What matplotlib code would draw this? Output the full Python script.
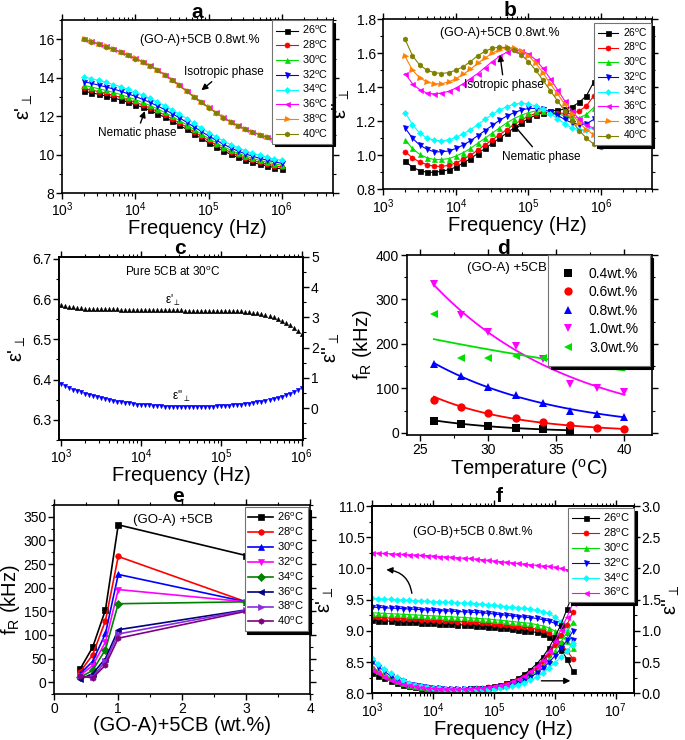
import numpy as np
import matplotlib
matplotlib.use("Agg")
from matplotlib import pyplot as plt
from matplotlib.ticker import MultipleLocator, FixedLocator

plt.rcParams['font.family'] = ['Liberation Sans', 'DejaVu Sans']
plt.rcParams['mathtext.fontset'] = 'custom'
plt.rcParams['mathtext.rm'] = 'Liberation Sans'
plt.rcParams['mathtext.it'] = 'Liberation Sans:italic'
plt.rcParams['mathtext.bf'] = 'Liberation Sans:bold'
plt.rcParams['axes.linewidth'] = 1.2

# ---- panel a / b : (GO-A)+5CB 0.8 wt.%, frequency sweep 2 kHz - 1 MHz
temps_ab = [26, 28, 30, 32, 34, 36, 38, 40]
freq_ab = np.logspace(np.log10(2e3), 6, 28)

a26 = [13.30, 13.22, 13.14, 13.05, 12.95, 12.85, 12.73, 12.60, 12.46, 12.30, 12.13, 11.95, 11.75, 11.54,
       11.32, 11.08, 10.85, 10.62, 10.40, 10.20, 10.02, 9.86, 9.72, 9.60, 9.50, 9.41, 9.33, 9.25]
a28 = [13.45, 13.37, 13.28, 13.19, 13.09, 12.98, 12.86, 12.73, 12.59, 12.43, 12.26, 12.07, 11.87, 11.66,
       11.44, 11.20, 10.97, 10.74, 10.52, 10.31, 10.13, 9.97, 9.83, 9.71, 9.60, 9.51, 9.43, 9.35]
a30 = [13.60, 13.52, 13.43, 13.34, 13.24, 13.13, 13.00, 12.87, 12.72, 12.56, 12.39, 12.20, 12.00, 11.78,
       11.56, 11.32, 11.08, 10.85, 10.63, 10.42, 10.24, 10.08, 9.94, 9.81, 9.70, 9.61, 9.53, 9.45]
a32 = [13.80, 13.71, 13.62, 13.52, 13.42, 13.30, 13.17, 13.03, 12.88, 12.72, 12.54, 12.35, 12.14, 11.92,
       11.69, 11.45, 11.21, 10.98, 10.76, 10.55, 10.36, 10.19, 10.05, 9.92, 9.81, 9.71, 9.63, 9.55]
a34 = [14.05, 13.96, 13.86, 13.76, 13.65, 13.53, 13.40, 13.25, 13.10, 12.93, 12.75, 12.55, 12.34, 12.11,
       11.88, 11.63, 11.39, 11.15, 10.93, 10.72, 10.53, 10.36, 10.21, 10.08, 9.96, 9.86, 9.78, 9.70]
a36 = [16.02, 15.90, 15.77, 15.64, 15.50, 15.35, 15.19, 15.02, 14.84, 14.64, 14.42, 14.17, 13.90, 13.62,
       13.32, 13.02, 12.74, 12.47, 12.20, 11.95, 11.72, 11.52, 11.35, 11.19, 11.05, 10.92, 10.80, 10.67]
a38 = [16.01, 15.89, 15.76, 15.63, 15.49, 15.34, 15.18, 15.01, 14.83, 14.63, 14.41, 14.16, 13.89, 13.61,
       13.31, 13.01, 12.73, 12.46, 12.19, 11.94, 11.71, 11.51, 11.34, 11.18, 11.04, 10.91, 10.79, 10.66]
a40 = [16.00, 15.88, 15.75, 15.62, 15.48, 15.33, 15.17, 15.00, 14.82, 14.62, 14.40, 14.15, 13.88, 13.60,
       13.30, 13.00, 12.72, 12.45, 12.18, 11.93, 11.70, 11.50, 11.33, 11.17, 11.03, 10.90, 10.78, 10.65]

b26 = [0.965, 0.93, 0.91, 0.90, 0.90, 0.905, 0.915, 0.93, 0.955, 0.98, 1.01, 1.04, 1.07, 1.10,
       1.13, 1.16, 1.19, 1.215, 1.235, 1.25, 1.26, 1.265, 1.27, 1.285, 1.31, 1.35, 1.43, 1.54]
b28 = [1.02, 0.985, 0.96, 0.945, 0.935, 0.935, 0.94, 0.955, 0.975, 1.0, 1.03, 1.06, 1.09, 1.12,
       1.15, 1.18, 1.205, 1.23, 1.245, 1.255, 1.255, 1.25, 1.245, 1.245, 1.26, 1.29, 1.35, 1.44]
b30 = [1.09, 1.04, 1.005, 0.985, 0.975, 0.975, 0.98, 0.995, 1.015, 1.04, 1.07, 1.10, 1.13, 1.16,
       1.19, 1.215, 1.235, 1.25, 1.26, 1.26, 1.255, 1.245, 1.23, 1.22, 1.22, 1.24, 1.28, 1.35]
b32 = [1.16, 1.10, 1.06, 1.035, 1.02, 1.02, 1.025, 1.04, 1.06, 1.085, 1.115, 1.145, 1.175, 1.205,
       1.23, 1.25, 1.265, 1.275, 1.275, 1.27, 1.255, 1.235, 1.21, 1.19, 1.18, 1.185, 1.21, 1.26]
b34 = [1.25, 1.18, 1.13, 1.10, 1.088, 1.085, 1.09, 1.105, 1.125, 1.15, 1.18, 1.21, 1.24, 1.265,
       1.285, 1.30, 1.305, 1.30, 1.29, 1.27, 1.245, 1.215, 1.185, 1.16, 1.15, 1.15, 1.16, 1.18]
b36 = [1.48, 1.42, 1.385, 1.365, 1.36, 1.365, 1.375, 1.395, 1.42, 1.45, 1.48, 1.515, 1.55, 1.58,
       1.605, 1.62, 1.615, 1.595, 1.56, 1.51, 1.45, 1.385, 1.32, 1.26, 1.21, 1.175, 1.16, 1.17]
b38 = [1.58, 1.50, 1.455, 1.43, 1.42, 1.42, 1.43, 1.45, 1.475, 1.505, 1.54, 1.57, 1.60, 1.62,
       1.633, 1.63, 1.615, 1.585, 1.54, 1.485, 1.42, 1.36, 1.30, 1.24, 1.19, 1.15, 1.12, 1.11]
b40 = [1.68, 1.585, 1.53, 1.50, 1.485, 1.48, 1.485, 1.50, 1.52, 1.55, 1.585, 1.61, 1.628, 1.635,
       1.632, 1.618, 1.59, 1.55, 1.50, 1.44, 1.38, 1.32, 1.26, 1.20, 1.145, 1.10, 1.065, 1.05]

# ---- panel c : pure 5CB at 30 C
freq_c = np.logspace(3, 6, 61)
c_eps1 = [6.584, 6.582, 6.580, 6.579, 6.578, 6.577, 6.576, 6.576, 6.575, 6.575, 6.575, 6.574, 6.574,
          6.574, 6.574, 6.573, 6.573, 6.573, 6.573, 6.573, 6.573, 6.573, 6.572, 6.572, 6.572, 6.572,
          6.572, 6.572, 6.572, 6.572, 6.572, 6.571, 6.571, 6.571, 6.571, 6.571, 6.571, 6.571, 6.570,
          6.570, 6.570, 6.570, 6.570, 6.570, 6.569, 6.569, 6.568, 6.567, 6.566, 6.565, 6.563, 6.561,
          6.558, 6.555, 6.551, 6.546, 6.541, 6.535, 6.528, 6.521, 6.514]
c_eps2 = [0.80, 0.73, 0.67, 0.61, 0.56, 0.52, 0.47, 0.43, 0.39, 0.36, 0.33, 0.30, 0.27, 0.24, 0.22,
          0.20, 0.18, 0.16, 0.14, 0.12, 0.11, 0.10, 0.09, 0.08, 0.07, 0.06, 0.05, 0.04, 0.04, 0.03,
          0.03, 0.03, 0.03, 0.03, 0.03, 0.04, 0.04, 0.05, 0.05, 0.06, 0.06, 0.07, 0.08, 0.09, 0.10,
          0.12, 0.13, 0.15, 0.17, 0.19, 0.21, 0.24, 0.27, 0.30, 0.34, 0.38, 0.42, 0.47, 0.53, 0.59, 0.66]

# ---- panel d : relaxation frequency vs temperature (kHz)
temps_d = [26, 28, 30, 32, 34, 36, 38, 40]
d04 = [26, 20, 16, 11, 8, 5]
d06 = [74, 57, 44, 34, 25, 17, 11, 8]
d08 = [154, 128, 103, 85, 68, 49, 43, 36]
d10 = [334, 265, 227, 196, 166, 110, 100, 91]
d30 = [268, 168, 168, 172, 168, 154, 151, 150]
conc_labels_d = ['0.4wt.%', '0.6wt.%', '0.8wt.%', '1.0wt.%', '3.0wt.%']

# ---- panel e : relaxation frequency vs concentration (kHz)
conc_e = [0.4, 0.6, 0.8, 1.0, 3.0]
temps_e = [26, 28, 30, 32, 34, 36, 38, 40]
e26 = [27, 74, 153, 333, 268]
e28 = [21, 58, 130, 266, 170]
e30 = [17, 44, 103, 228, 170]
e32 = [14, 35, 85, 196, 170]
e34 = [10, 25, 69, 166, 170]
e36 = [6, 18, 50, 111, 153]
e38 = [12, 11, 44, 102, 152]
e40 = [13, 9, 36, 93, 150]

# ---- panel f : (GO-B)+5CB 0.8 wt.%
temps_f = [26, 28, 30, 32, 34, 36]
freq_f = np.logspace(3, 6.3, 34)
f1_26 = [9.17, 9.165, 9.16, 9.155, 9.15, 9.145, 9.14, 9.135, 9.13, 9.125, 9.12, 9.115, 9.11, 9.105,
         9.10, 9.095, 9.09, 9.085, 9.075, 9.065, 9.06, 9.05, 9.04, 9.03, 9.02, 9.005, 8.99, 8.975,
         8.95, 8.90, 8.82, 8.70, 8.55, 8.35]
f1_28 = [9.22, 9.215, 9.21, 9.205, 9.20, 9.195, 9.19, 9.185, 9.18, 9.175, 9.17, 9.165, 9.16, 9.155,
         9.15, 9.145, 9.14, 9.135, 9.13, 9.12, 9.11, 9.10, 9.09, 9.08, 9.07, 9.06, 9.05, 9.03,
         9.01, 8.97, 8.90, 8.80, 8.68, 8.55]
f1_30 = [9.29, 9.285, 9.28, 9.275, 9.27, 9.265, 9.26, 9.255, 9.25, 9.245, 9.24, 9.235, 9.23, 9.225,
         9.22, 9.215, 9.21, 9.20, 9.195, 9.19, 9.18, 9.17, 9.16, 9.15, 9.14, 9.13, 9.12, 9.10,
         9.08, 9.05, 9.00, 8.93, 8.83, 8.72]
f1_32 = [9.38, 9.375, 9.37, 9.365, 9.36, 9.355, 9.35, 9.345, 9.34, 9.335, 9.33, 9.325, 9.32, 9.315,
         9.31, 9.305, 9.30, 9.295, 9.29, 9.28, 9.27, 9.26, 9.25, 9.24, 9.23, 9.22, 9.21, 9.20,
         9.18, 9.16, 9.12, 9.06, 8.97, 8.85]
f1_34 = [9.52, 9.515, 9.51, 9.505, 9.50, 9.495, 9.49, 9.485, 9.48, 9.475, 9.47, 9.465, 9.46, 9.455,
         9.45, 9.445, 9.44, 9.435, 9.43, 9.42, 9.41, 9.40, 9.39, 9.38, 9.37, 9.36, 9.35, 9.33,
         9.31, 9.28, 9.22, 9.15, 9.00, 8.78]
f1_36 = [10.25, 10.245, 10.24, 10.235, 10.23, 10.225, 10.22, 10.215, 10.21, 10.205, 10.20, 10.19,
         10.185, 10.18, 10.17, 10.165, 10.16, 10.15, 10.14, 10.13, 10.12, 10.11, 10.10, 10.09, 10.08,
         10.07, 10.06, 10.05, 10.04, 10.035, 10.02, 10.00, 9.98, 9.95]
f2_26 = [0.33, 0.28, 0.24, 0.20, 0.17, 0.14, 0.12, 0.10, 0.09, 0.08, 0.075, 0.07, 0.07, 0.07, 0.07,
         0.075, 0.08, 0.085, 0.09, 0.10, 0.12, 0.14, 0.17, 0.20, 0.25, 0.31, 0.38, 0.47, 0.58, 0.72,
         0.90, 1.10, 1.35, 1.62]
f2_28 = [0.40, 0.34, 0.28, 0.23, 0.19, 0.16, 0.13, 0.11, 0.095, 0.085, 0.08, 0.075, 0.07, 0.07, 0.07,
         0.07, 0.075, 0.08, 0.085, 0.095, 0.105, 0.12, 0.145, 0.17, 0.21, 0.26, 0.32, 0.40, 0.50,
         0.62, 0.77, 0.93, 1.10, 1.30]
f2_30 = [0.42, 0.36, 0.30, 0.25, 0.20, 0.17, 0.14, 0.12, 0.10, 0.09, 0.08, 0.075, 0.07, 0.07, 0.07,
         0.07, 0.07, 0.075, 0.08, 0.09, 0.10, 0.11, 0.13, 0.16, 0.19, 0.23, 0.28, 0.35, 0.44, 0.55,
         0.68, 0.82, 0.98, 1.15]
f2_32 = [0.50, 0.42, 0.35, 0.28, 0.23, 0.19, 0.15, 0.13, 0.11, 0.095, 0.085, 0.08, 0.075, 0.07, 0.07,
         0.07, 0.07, 0.07, 0.075, 0.08, 0.09, 0.10, 0.12, 0.14, 0.17, 0.21, 0.26, 0.32, 0.40, 0.49,
         0.60, 0.72, 0.85, 1.00]
f2_34 = [0.56, 0.47, 0.39, 0.32, 0.26, 0.21, 0.17, 0.14, 0.12, 0.10, 0.09, 0.08, 0.075, 0.07, 0.07,
         0.065, 0.065, 0.065, 0.065, 0.07, 0.075, 0.085, 0.10, 0.12, 0.14, 0.17, 0.21, 0.26, 0.32,
         0.40, 0.49, 0.58, 0.68, 0.80]
f2_36 = [0.38, 0.32, 0.26, 0.22, 0.18, 0.15, 0.13, 0.11, 0.095, 0.085, 0.08, 0.075, 0.07, 0.07, 0.07,
         0.07, 0.075, 0.08, 0.09, 0.10, 0.115, 0.13, 0.155, 0.19, 0.23, 0.28, 0.35, 0.43, 0.54, 0.67,
         0.83, 1.02, 1.22, 1.45]

EPS1 = "ε'$_{\\perp}$"
EPS2 = "ε''$_{\\perp}$"
FR = "f$_\\mathregular{R}$ (kHz)"
DEG = "$^\\mathregular{o}$C"
LAB = 14.5   # axis label size
TICK = 10    # tick label size

colors_ab = ['black', 'red', '#00dd00', 'blue', 'cyan', 'magenta', '#ff8000', '#808000']
markers_ab = ['s', 'o', '^', 'v', 'D', '<', '>', 'h']
colors_e = ['black', 'red', 'blue', 'magenta', '#008000', '#000080', '#8a2be2', '#800080']
markers_e = ['s', 'o', '^', 'v', 'D', '<', '>', 'h']


def style(ax, right=True):
    ax.tick_params(which='both', direction='out', top=True, right=right, labelsize=TICK, pad=1.5)
    ax.tick_params(which='major', length=4, width=1)
    ax.tick_params(which='minor', length=2.2, width=0.8)


def style_twin(ax):
    ax.tick_params(which='both', direction='out', labelsize=TICK, pad=1.5)
    ax.tick_params(which='major', length=4, width=1)
    ax.tick_params(which='minor', length=2.2, width=0.8)


def legend(ax, handles, labels, anchor, size, **kw):
    opts = dict(loc='upper right', bbox_to_anchor=anchor, fontsize=size, fancybox=False,
                shadow={'color': 'k', 'alpha': 1}, edgecolor='0.45', framealpha=1,
                borderaxespad=0, borderpad=0.35, labelspacing=0.22, handletextpad=0.4)
    opts.update(kw)
    leg = ax.legend(handles, labels, **opts)
    leg.get_frame().set_linewidth(0.8)
    return leg


arrow = dict(arrowstyle='-|>', color='k', lw=1.0, mutation_scale=9, shrinkA=1, shrinkB=0)

fig = plt.figure(figsize=(6.85, 7.4), dpi=100)

# ---------------- a
ax = fig.add_axes([0.0905, 0.739, 0.3956, 0.2338])
series_a = [a26, a28, a30, a32, a34, a36, a38, a40]
for t, y, c, m in zip(temps_ab, series_a, colors_ab, markers_ab):
    ax.plot(freq_ab, y, color=c, marker=m, ms=3.6 if m != 'D' else 3.0, mew=0.5, lw=0.8,
            label=f"{t}" + DEG)
ax.set_xscale('log')
ax.set_xlim(1e3, 5e6)
ax.set_ylim(8, 17)
ax.yaxis.set_major_locator(MultipleLocator(2))
ax.yaxis.set_minor_locator(MultipleLocator(1))
style(ax)
ax.set_xlabel("Frequency (Hz)", fontsize=LAB, labelpad=0)
ax.set_ylabel(EPS1, fontsize=LAB, labelpad=3)
ax.text(0.51, 0.884, "(GO-A)+5CB 0.8wt.%", transform=ax.transAxes, ha='center', va='center', fontsize=9)
ax.annotate("Isotropic phase", xy=(8.0e4, 13.35), xytext=(1.6e5, 14.3), ha='center', va='center',
            fontsize=8.5, arrowprops=arrow)
ax.annotate("Nematic phase", xy=(1.35e4, 12.27), xytext=(1.05e4, 11.12), ha='center', va='center',
            fontsize=8.5, arrowprops=arrow)
h, l = ax.get_legend_handles_labels()
legend(ax, h, l, (0.996, 1.0), 7.8, handlelength=2.0)

# ---------------- b
ax = fig.add_axes([0.5596, 0.7442, 0.3918, 0.2301])
series_b = [b26, b28, b30, b32, b34, b36, b38, b40]
for t, y, c, m in zip(temps_ab, series_b, colors_ab, markers_ab):
    ax.plot(freq_ab, y, color=c, marker=m, ms=3.6 if m != 'D' else 3.0, mew=0.5, lw=0.8,
            label=f"{t}" + DEG)
ax.set_xscale('log')
ax.set_xlim(1e3, 5e6)
ax.set_ylim(0.8, 1.8)
ax.yaxis.set_major_locator(MultipleLocator(0.2))
ax.yaxis.set_minor_locator(MultipleLocator(0.1))
style(ax)
ax.set_xlabel("Frequency (Hz)", fontsize=LAB, labelpad=0)
ax.set_ylabel(EPS2, fontsize=LAB, labelpad=3)
ax.text(0.435, 0.916, "(GO-A)+5CB 0.8wt.%", transform=ax.transAxes, ha='center', va='center', fontsize=9)
ax.annotate("Isotropic phase", xy=(4.05e4, 1.59), xytext=(4.6e4, 1.413), ha='center', va='center',
            fontsize=8.5, arrowprops=arrow)
ax.annotate("Nematic phase", xy=(6.0e4, 1.188), xytext=(1.48e5, 0.992), ha='center', va='center',
            fontsize=8.5, arrowprops=arrow)
h, l = ax.get_legend_handles_labels()
legend(ax, h, l, (0.997, 0.978), 7.4, handlelength=2.0)

# ---------------- c
ax = fig.add_axes([0.0861, 0.4054, 0.3567, 0.2477])
ax.plot(freq_c, c_eps1, ls='none', marker='^', ms=3.2, color='black', mew=0.3)
ax.set_xscale('log')
ax.set_xlim(950, 1.05e6)
ax.set_ylim(6.25, 6.705)
ax.yaxis.set_major_locator(MultipleLocator(0.1))
ax.yaxis.set_minor_locator(MultipleLocator(0.05))
style(ax, right=False)
ax.set_xlabel("Frequency (Hz)", fontsize=LAB, labelpad=0)
ax.set_ylabel(EPS1, fontsize=LAB, labelpad=3)
ax2 = ax.twinx()
ax2.plot(freq_c, c_eps2, ls='none', marker='v', ms=3.2, color='blue', mew=0.3)
ax2.set_ylim(-1.05, 5.0)
ax2.yaxis.set_major_locator(FixedLocator([0, 1, 2, 3, 4, 5]))
ax2.yaxis.set_minor_locator(MultipleLocator(0.5))
style_twin(ax2)
ax2.set_ylabel(EPS2, fontsize=LAB, labelpad=1)
ax.text(0.467, 0.918, "Pure 5CB at 30" + DEG, transform=ax.transAxes, ha='center', va='center', fontsize=8.5)
ax.text(0.467, 0.76, EPS1, transform=ax.transAxes, ha='center', va='center', fontsize=8.5)
ax.text(0.502, 0.236, EPS2, transform=ax.transAxes, ha='center', va='center', fontsize=8.5)

# ---------------- d
ax = fig.add_axes([0.5937, 0.4122, 0.3577, 0.2432])
series_d = [d04, d06, d08, d10, d30]
colors_d = ['black', 'red', 'blue', 'magenta', '#00e000']
markers_d = ['s', 'o', '^', 'v', '<']
handles = []
for y, c, m in zip(series_d, colors_d, markers_d):
    t = np.array(temps_d[:len(y)], dtype=float)
    hnd, = ax.plot(t, y, ls='none', marker=m, ms=6, color=c, mew=0)
    handles.append(hnd)
    coef = np.polyfit(t, np.log(y), 1)
    tt = np.linspace(t[0], t[-1], 60)
    ax.plot(tt, np.exp(np.polyval(coef, tt)), color=c, lw=1.3)
ax.set_xlim(24, 42)
ax.set_ylim(-5, 400)
ax.xaxis.set_major_locator(MultipleLocator(5))
ax.xaxis.set_minor_locator(MultipleLocator(2.5))
ax.yaxis.set_major_locator(MultipleLocator(100))
ax.yaxis.set_minor_locator(MultipleLocator(50))
style(ax)
ax.set_xlabel("Temperature (" + DEG + ")", fontsize=LAB, labelpad=0)
ax.set_ylabel(FR, fontsize=LAB, labelpad=1)
ax.text(0.408, 0.926, "(GO-A) +5CB", transform=ax.transAxes, ha='center', va='center', fontsize=9.5)
legend(ax, handles, conc_labels_d, (0.993, 1.0), 10, handlelength=1.2, labelspacing=0.32,
       borderpad=0.85, handletextpad=0.9)

# ---------------- e
ax = fig.add_axes([0.0793, 0.0622, 0.3733, 0.2554])
series_e = [e26, e28, e30, e32, e34, e36, e38, e40]
for t, y, c, m in zip(temps_e, series_e, colors_e, markers_e):
    ax.plot(conc_e, y, color=c, marker=m, ms=4, mew=0.5, lw=1.2, label=f"{t}" + DEG)
ax.set_xlim(0, 4)
ax.set_ylim(-25, 375)
ax.xaxis.set_major_locator(MultipleLocator(1))
ax.xaxis.set_minor_locator(MultipleLocator(0.5))
ax.yaxis.set_major_locator(FixedLocator(list(range(0, 351, 50))))
ax.yaxis.set_minor_locator(MultipleLocator(25))
style(ax)
ax.set_xlabel("(GO-A)+5CB (wt.%)", fontsize=LAB, labelpad=0)
ax.set_ylabel(FR, fontsize=LAB, labelpad=1)
ax.text(0.465, 0.92, "(GO-A) +5CB", transform=ax.transAxes, ha='center', va='center', fontsize=9.5)
h, l = ax.get_legend_handles_labels()
legend(ax, h, l, (0.992, 0.989), 8, handlelength=2.2)

# ---------------- f
ax = fig.add_axes([0.5435, 0.0631, 0.382, 0.2531])
ax2 = ax.twinx()
series_f1 = [f1_26, f1_28, f1_30, f1_32, f1_34, f1_36]
series_f2 = [f2_26, f2_28, f2_30, f2_32, f2_34, f2_36]
colors_f = ['black', 'red', '#00dd00', 'blue', 'cyan', 'magenta']
markers_f = ['s', 'o', '^', 'v', 'D', '<']
for t, y1, y2, c, m in zip(temps_f, series_f1, series_f2, colors_f, markers_f):
    ms = 3.6 if m != 'D' else 3.0
    ax.plot(freq_f, y1, color=c, marker=m, ms=ms, mew=0.5, lw=0.8, label=f"{t}" + DEG)
    ax2.plot(freq_f, y2, color=c, marker=m, ms=ms, mew=0.5, lw=0.8)
ax.set_xscale('log')
ax.set_xlim(1e3, 2e7)
ax.set_ylim(8, 11)
ax.yaxis.set_major_locator(MultipleLocator(0.5))
ax.yaxis.set_minor_locator(MultipleLocator(0.25))
style(ax, right=False)
ax2.set_ylim(0, 3)
ax2.yaxis.set_major_locator(MultipleLocator(0.5))
ax2.yaxis.set_minor_locator(MultipleLocator(0.25))
style_twin(ax2)
ax.set_xlabel("Frequency (Hz)", fontsize=LAB, labelpad=0)
ax.set_ylabel(EPS1, fontsize=LAB, labelpad=1)
ax2.set_ylabel(EPS2, fontsize=LAB, labelpad=0)
ax.text(0.386, 0.863, "(GO-B)+5CB 0.8wt.%", transform=ax.transAxes, ha='center', va='center', fontsize=9)
ax.annotate("", xy=(1.7e3, 9.98), xytext=(4.5e3, 9.58),
            arrowprops=dict(arrow, connectionstyle='arc3,rad=0.4'))
ax2.annotate("", xy=(1.8e6, 0.2), xytext=(5.7e5, 0.2), arrowprops=arrow)
h, l = ax.get_legend_handles_labels()
legend(ax2, h, l, (1.0, 0.99), 8, handlelength=2.4)

# panel letters
for letter, x, y in [('a', 197, 12), ('b', 510, 10), ('c', 180, 249),
                     ('d', 503, 248), ('e', 178, 496), ('f', 499, 496)]:
    fig.text(x / 685, 1 - y / 740, letter, ha='center', va='center', fontsize=15, fontweight='bold')

fig.savefig("out.png", dpi=100)
